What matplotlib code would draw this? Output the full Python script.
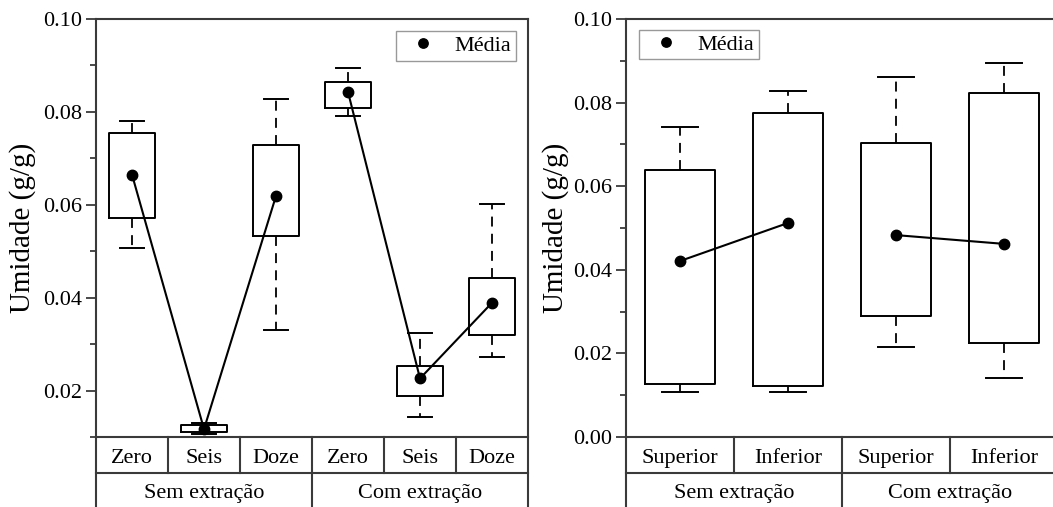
import matplotlib
matplotlib.use("Agg")
import matplotlib.pyplot as plt
from matplotlib.ticker import MultipleLocator

plt.rcParams['font.family'] = ['Liberation Serif', 'DejaVu Serif']

# left panel: storage time, without / with extraction
left_cats = ['Zero', 'Seis', 'Doze', 'Zero', 'Seis', 'Doze']
left_groups = ['Sem extração', 'Com extração']
left_whislo = [0.0508, 0.0107, 0.0331, 0.0791, 0.0142, 0.0273]
left_q1 = [0.0572, 0.0111, 0.0533, 0.0809, 0.0189, 0.0320]
left_q3 = [0.0755, 0.0126, 0.0729, 0.0865, 0.0252, 0.0443]
left_whishi = [0.0781, 0.0130, 0.0828, 0.0895, 0.0323, 0.0602]
left_mean = [0.0665, 0.0117, 0.0619, 0.0843, 0.0226, 0.0389]

# right panel: position, without / with extraction
right_cats = ['Superior', 'Inferior', 'Superior', 'Inferior']
right_groups = ['Sem extração', 'Com extração']
right_whislo = [0.0108, 0.0108, 0.0215, 0.0141]
right_q1 = [0.0127, 0.0122, 0.0289, 0.0225]
right_q3 = [0.0639, 0.0775, 0.0703, 0.0823]
right_whishi = [0.0742, 0.0828, 0.0861, 0.0895]
right_mean = [0.0421, 0.0512, 0.0483, 0.0462]

fig = plt.figure(figsize=(10.53, 5.07), dpi=100)
ax1 = fig.add_axes([96/1053, 1-437/507, 432/1053, 418/507])
ax2 = fig.add_axes([626/1053, 1-437/507, 432/1053, 418/507])

spine_col = '#3a3a3a'


def draw_panel(ax, cats, groups, whislo, q1, q3, whishi, mean, ylim, yticks):
    n = len(cats)
    stats = []
    for i in range(n):
        stats.append({'whislo': whislo[i], 'q1': q1[i], 'med': q1[i],
                      'q3': q3[i], 'whishi': whishi[i], 'fliers': []})
    pos = list(range(n))
    ax.bxp(stats, positions=pos, widths=0.64, capwidths=0.34,
           showfliers=False, patch_artist=False,
           boxprops=dict(color='black', lw=1.4),
           whiskerprops=dict(color='black', lw=1.3, linestyle=(0, (5.5, 4))),
           capprops=dict(color='black', lw=1.4),
           medianprops=dict(lw=0))
    # mean lines within each group
    per = n // len(groups)
    for g in range(len(groups)):
        xs = pos[g*per:(g+1)*per]
        ys = mean[g*per:(g+1)*per]
        ax.plot(xs, ys, color='black', lw=1.5, marker='o', ms=7.5,
                label='Média' if g == 0 else None)
    ax.set_xlim(-0.5, n - 0.5)
    ax.set_ylim(*ylim)
    ax.set_yticks(yticks)
    ax.set_yticklabels(['%.2f' % t for t in yticks])
    ax.yaxis.set_minor_locator(MultipleLocator(0.01))
    ax.tick_params(axis='y', which='major', direction='out', length=7,
                   width=1.3, color=spine_col, labelsize=16, pad=3)
    ax.tick_params(axis='y', which='minor', direction='out', length=4,
                   width=1.3, color=spine_col)
    ax.tick_params(axis='x', bottom=False, labelbottom=False)
    for s in ax.spines.values():
        s.set_color(spine_col)
        s.set_linewidth(1.5)
    ax.spines['left'].set_visible(False)
    ax.spines['right'].set_visible(False)
    ax.set_ylabel('Umidade (g/g)', fontsize=21)

    # category table below the axes
    tr = ax.get_xaxis_transform()
    r1 = -36/418
    r2 = -0.25
    ax.plot([-0.5, -0.5], [r2, 1], transform=tr, color=spine_col, lw=1.5,
            clip_on=False)
    ax.plot([n-0.5, n-0.5], [r2, 1], transform=tr, color=spine_col, lw=1.5,
            clip_on=False)
    ax.plot([-0.5, n-0.5], [r1, r1], transform=tr, color=spine_col, lw=1.5,
            clip_on=False)
    for i in range(1, n):
        bottom = r2 if i % per == 0 else r1
        ax.plot([i-0.5, i-0.5], [0, bottom], transform=tr, color=spine_col,
                lw=1.5, clip_on=False)
    for i, c in enumerate(cats):
        ax.text(i, -26/418, c, transform=tr, ha='center', va='baseline',
                fontsize=16)
    for g, name in enumerate(groups):
        ax.text(g*per + (per-1)/2, -61/418, name, transform=tr,
                ha='center', va='baseline', fontsize=16)


draw_panel(ax1, left_cats, left_groups, left_whislo, left_q1, left_q3,
           left_whishi, left_mean, (0.01, 0.10), [0.02, 0.04, 0.06, 0.08, 0.10])
draw_panel(ax2, right_cats, right_groups, right_whislo, right_q1, right_q3,
           right_whishi, right_mean, (0.0, 0.10),
           [0.0, 0.02, 0.04, 0.06, 0.08, 0.10])

ax1.yaxis.set_label_coords(-0.14, 0.5)
ax2.yaxis.set_label_coords(-0.133, 0.5)

leg_kw = dict(fontsize=16, frameon=True, fancybox=False, edgecolor='#808080',
              handlelength=2.0, handletextpad=0.43, borderpad=0.2,
              borderaxespad=0, markerscale=0.9)
l1 = ax1.legend(loc='upper right', bbox_to_anchor=(0.972, 0.971), **leg_kw)
l2 = ax2.legend(loc='upper left', bbox_to_anchor=(0.030, 0.974), **leg_kw)
for leg in (l1, l2):
    leg.get_frame().set_linewidth(1.0)
    for h in leg.legend_handles:
        h.set_linestyle('none')

fig.savefig('out.png', dpi=100)
